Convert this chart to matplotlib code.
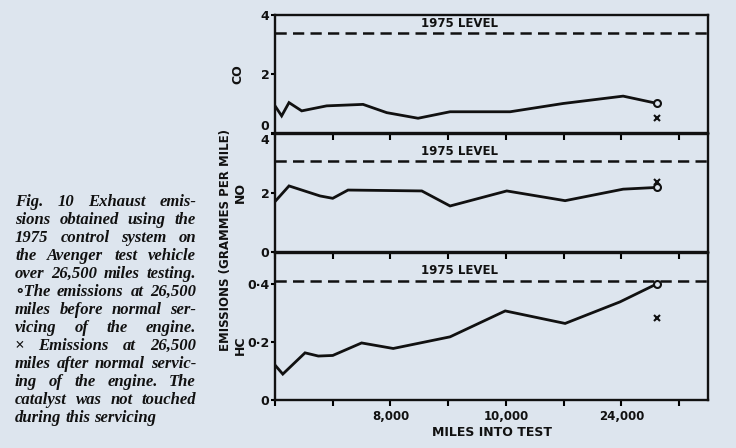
import matplotlib.pyplot as plt

# values (miles, grammes per mile)
co_miles = [0, 460, 970, 1850, 3580, 6100, 7740, 9910, 12130, 16290, 19960, 24120, 26500]
co_vals = [0.92, 0.58, 1.03, 0.75, 0.92, 0.97, 0.69, 0.50, 0.72, 0.72, 1.00, 1.25, 1.00]
no_miles = [0, 970, 3120, 4000, 5060, 10170, 12130, 16060, 20100, 24120, 26500]
no_vals = [1.71, 2.24, 1.90, 1.82, 2.10, 2.07, 1.56, 2.07, 1.74, 2.13, 2.19]
hc_miles = [0, 540, 2080, 3000, 4000, 6000, 8190, 12130, 15950, 20100, 23900, 26500]
hc_vals = [0.12, 0.089, 0.162, 0.151, 0.153, 0.196, 0.177, 0.217, 0.306, 0.263, 0.337, 0.40]

level_1975 = [3.4, 3.1, 0.41]
after_service = [0.5, 2.38, 0.28]   # x markers at 26,500 miles
serviced_at = 26500

x_ticks = [0, 4000, 8000, 12000, 16000, 20000, 24000, 28000]
x_labels = ["", "", "8,000", "", "10,000", "", "24,000", ""]

caption_lines = [
    "Fig. 10  Exhaust emis-",
    "sions obtained using the",
    "1975 control system on",
    "the Avenger test vehicle",
    "over 26,500 miles testing.",
    "\u2218The emissions at 26,500",
    "miles before normal ser-",
    "vicing of the engine.",
    "\u00d7 Emissions at 26,500",
    "miles after normal servic-",
    "ing of the engine. The",
    "catalyst was not touched",
    "during this servicing",
]

bg = "#dde5ee"
ink = "#111111"
W, H = 736, 448

fig = plt.figure(figsize=(7.36, 4.48), dpi=100, facecolor=bg)

panels = [
    # (bottom, height) in figure fraction, ylim, yticks, ytick labels, name
    ((1 - 133 / H, 118 / H), (0, 4), [0, 2, 4], ["0", "2", "4"], "CO", co_miles, co_vals),
    ((1 - 252 / H, 118 / H), (0, 4), [0, 2, 4], ["0", "2", "4"], "NO", no_miles, no_vals),
    ((1 - 400 / H, 147 / H), (0, 0.505), [0, 0.2, 0.4], ["0", "0\u00b72", "0\u00b74"], "HC", hc_miles, hc_vals),
]

left, width = 275 / W, 433 / W
name_x = [238, 240, 240]
name_y = [74, 192, 345]

for i, (box, ylim, yt, ytl, name, mx, my) in enumerate(panels):
    ax = fig.add_axes([left, box[0], width, box[1]])
    ax.set_facecolor(bg)
    ax.plot(mx, my, color=ink, lw=2.0, solid_joinstyle="miter")
    ax.plot([serviced_at], [my[-1]], "o", ms=5, mfc=bg, mec=ink, mew=1.5)
    ax.plot([serviced_at], [after_service[i]], "x", ms=4.5, mec=ink, mew=1.5)
    ax.axhline(level_1975[i], color=ink, lw=1.8, ls=(0, (4.5, 2.5)))
    ax.text(12800, level_1975[i] + ylim[1] * 0.025, "1975 LEVEL",
            ha="center", va="bottom", fontsize=8.5, fontweight="bold", color=ink)
    ax.set_xlim(0, 30000)
    ax.set_ylim(*ylim)
    ax.set_yticks(yt)
    ax.set_yticklabels(ytl, fontsize=9, fontweight="bold", color=ink)
    ax.tick_params(axis="y", direction="out", length=3, width=1.5, pad=1)
    ylabels = ax.get_yticklabels()
    if i == 0:
        ylabels[0].set_va("bottom")
    if i == 1:
        ylabels[-1].set_va("top")
    ax.set_xticks(x_ticks)
    if i == 2:
        ax.set_xticklabels(x_labels, fontsize=8.5, fontweight="bold", color=ink)
        ax.tick_params(axis="x", direction="out", length=4, width=1.5, pad=3, top=True)
        ax.set_xlabel("MILES INTO TEST", fontsize=9, fontweight="bold", color=ink, labelpad=2)
        for t in ax.xaxis.get_ticklines()[1::2]:
            t.set_marker(3)
    else:
        ax.set_xticklabels([])
        ax.tick_params(axis="x", direction="in", length=4, width=1.5,
                       bottom=False, top=(i == 1))
    for s in ax.spines.values():
        s.set_linewidth(1.7)
        s.set_color(ink)
    fig.text(name_x[i] / W, 1 - name_y[i] / H, name, rotation=90,
             ha="center", va="center", fontsize=9, fontweight="bold", color=ink)

fig.text(225 / W, 1 - 240 / H, "EMISSIONS (GRAMMES PER MILE)", rotation=90,
         ha="center", va="center", fontsize=8.5, fontweight="bold", color=ink)

# caption, justified line by line
cap_kw = dict(fontsize=12, fontweight="bold", fontstyle="italic", color=ink,
              family=["Liberation Serif", "DejaVu Serif"], va="baseline", ha="left")
renderer = fig.canvas.get_renderer()
x0, x1 = 15, 196
for n, line in enumerate(caption_lines):
    y = 1 - (206 + n * 18.0) / H
    words = line.split()
    texts = [fig.text(0, y, w, **cap_kw) for w in words]
    widths = [t.get_window_extent(renderer).width for t in texts]
    if n == len(caption_lines) - 1 or len(words) == 1:
        gap = 4.0
    else:
        gap = (x1 - x0 - sum(widths)) / (len(words) - 1)
    x = x0
    for t, w in zip(texts, widths):
        t.set_x(x / W)
        x += w + gap

fig.savefig("out.png", dpi=100, facecolor=bg)
